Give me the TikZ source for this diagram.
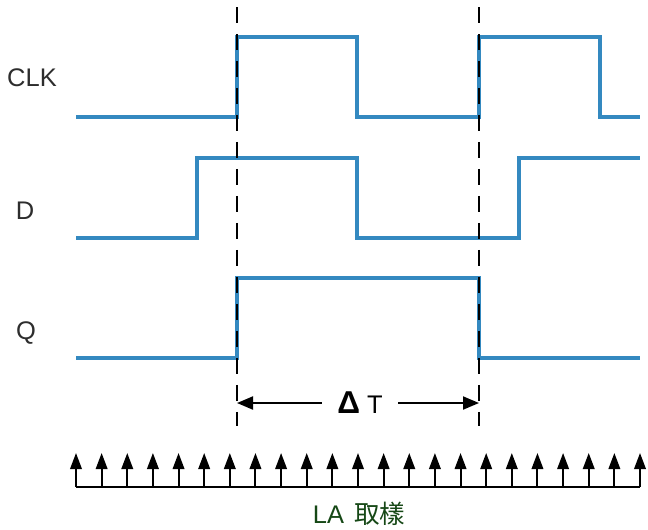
\documentclass[tikz,border=0pt]{standalone}
\usepackage{fontspec}
\setmainfont{Liberation Sans}
\newfontfamily\cjk{Noto Sans CJK TC}
\usepackage{tikz}
\usetikzlibrary{arrows.meta}
\definecolor{wave}{RGB}{52,137,192}
\definecolor{labgray}{RGB}{45,45,45}
\definecolor{labgreen}{RGB}{22,72,22}

\begin{document}
\begin{tikzpicture}[x = 0.02cm, y = -0.02cm,
  font = \fontsize{14.5pt}{17pt}\selectfont,
  signal/.style = {line width = 0.075cm, wave},
  marker/.style = {line width = 0.026cm, dash pattern = on 0.32cm off 0.22cm},
  dimarrow/.style = {line width = 0.04cm, -{Triangle[length = 0.32cm, width = 0.26cm]}},
  sample/.style = {line width = 0.04cm, -{Triangle[length = 0.32cm, width = 0.23cm]}}]
 \useasboundingbox (0, 0) rectangle (648, 529);
 % labels
 \node [text = labgray] (clk) at (32, 78) {CLK};
 \node [text = labgray] (d) at (25, 211) {D};
 \node [text = labgray] (q) at (26, 333) {Q};
 % waveforms
 \draw [signal] (76, 117) -| (237, 37) -| (357, 117) -| (479, 37) -| (600, 117) -- (640, 117);
 \draw [signal] (76, 238) -| (197, 158) -| (357, 238) -| (519, 158) -- (640, 158);
 \draw [signal] (76, 358) -| (237, 278) -| (479, 358) -- (640, 358);
 % sampling edges
 \coordinate (t1) at (237, 7);
 \coordinate (t2) at (479, 7);
 \draw [marker] (t1) -- (237, 426);
 \draw [marker] (t2) -- (479, 426);
 % delta T
 \node [inner xsep = 0.3cm] (dt) at (360, 403) {{\fontsize{18pt}{18pt}\selectfont\bfseries Δ} T};
 \draw [dimarrow] (dt.west) -- (t1 |- dt);
 \draw [dimarrow] (dt.east) -- (t2 |- dt);
 % LA samples
 \coordinate (s0) at (76, 487);
 \coordinate (s22) at (640, 487);
 \draw [line width = 0.04cm] (s0) -- (s22);
 \foreach \i in {0,...,22}
   \draw [sample] (76 + \i * 25.636, 487) coordinate (s\i) -- ++(0, -34);
 \node [text = labgreen] (la) at (359, 514) {LA\hspace{0.4em}{\cjk 取樣}};
\end{tikzpicture}
\end{document}
